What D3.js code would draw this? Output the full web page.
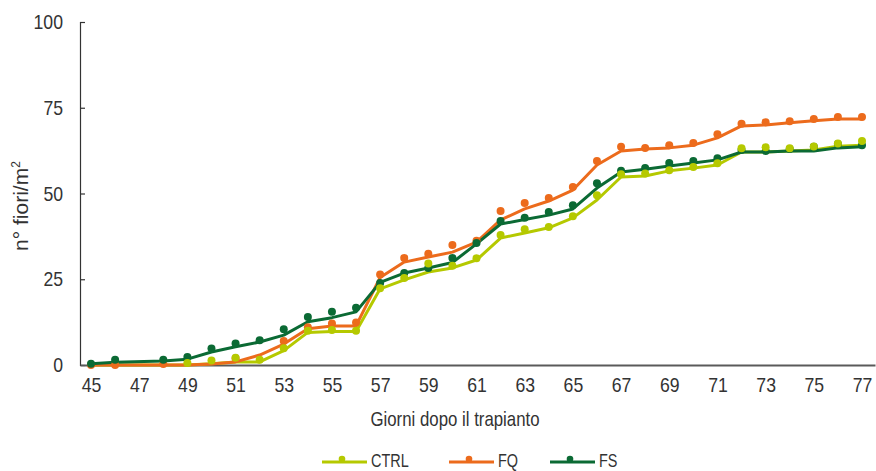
<!DOCTYPE html>
<html>
<head>
<meta charset="utf-8">
<script src="https://cdn.jsdelivr.net/npm/d3@7"></script>
<style>
  html, body { margin: 0; padding: 0; background: #fff; }
  svg text { font-family: "Liberation Sans", Arial, sans-serif; fill: #333; }
</style>
</head>
<body>
<svg id="chart" width="876" height="471"></svg>
<script>
const days = [45,46,48,49,50,51,52,53,54,55,56,57,58,59,60,61,62,63,64,65,66,67,68,69,70,71,72,73,74,75,76,77];

const ctrlDots = [null,null,null,0.6,1.3,2.1,1.5,4.9,10,10.2,10,22.4,25.4,29.6,28.9,31.1,37.9,39.6,40.2,43.4,49.5,55.6,55.8,56.8,57.7,58.8,63.2,63.5,63.2,63.7,64.6,65.3];
const fqDots   = [0,0,0.3,null,null,2,null,7,11,12.1,12.4,26.4,31.2,32.4,35,36.2,44.9,47.2,48.7,51.9,59.5,63.6,63.3,64.1,64.7,67.3,70.3,70.8,71.1,71.7,72.3,72.3];
const fsDots   = [0.4,1.5,1.5,2.3,4.8,6.3,7.2,10.4,14,15.5,16.7,23.9,26.8,28.3,31.2,35.6,42,42.9,44.6,46.6,53,56.6,57.4,58.9,59.5,60.3,62.7,62.4,63,63.6,64.4,64.1];

const ctrlLine = [0,0,0,0,0.4,0.9,0.9,4.2,9.5,9.8,9.8,22.2,24.8,27.1,28.3,30.6,37,38.5,40,42.9,48.1,54.8,55.1,56.6,57.4,58.3,62.1,62.1,62.4,62.7,63.8,64.1];
const fqLine   = [0,0,0,0,0.3,0.9,2.9,6.1,10.6,11.4,11.4,25.5,30,31.5,32.9,35.8,42.3,45.5,47.8,51,58.3,62.4,63,63.3,64.1,66.2,69.7,70,70.6,71.2,71.7,71.7];
const fsLine   = [0.4,0.8,1.2,1.7,3.8,5.3,6.7,8.7,12.6,13.8,15.5,24.1,26.8,28.3,29.9,35.3,41.1,42.4,43.7,45.5,51.6,56.3,57.1,58,58.9,59.8,62.1,62.1,62.4,62.4,63.3,63.6];

const seriesNames = ["CTRL","FQ","FS"];
const seriesColors = ["#b5c900","#ec6b1c","#0b6a34"];
const xTicks = [45,47,49,51,53,55,57,59,61,63,65,67,69,71,73,75,77];
const yTicks = [0,25,50,75,100];
const xTitle = "Giorni dopo il trapianto";
const yTitle = "n° fiori/m";

const series = [
  {name: seriesNames[0], color: seriesColors[0], dots: ctrlDots, line: ctrlLine},
  {name: seriesNames[1], color: seriesColors[1], dots: fqDots, line: fqLine},
  {name: seriesNames[2], color: seriesColors[2], dots: fsDots, line: fsLine}
];

// condense text horizontally (reference uses a condensed face)
function condense(sel, f) {
  sel.each(function() {
    const w = this.getComputedTextLength();
    d3.select(this).attr("textLength", w * f).attr("lengthAdjust", "spacingAndGlyphs");
  });
}

const svg = d3.select("#chart");
const mLeft = 80, mRight = 875, mTop = 22, mBottom = 365;

const x = d3.scaleLinear().domain([44.543, 77.54]).range([mLeft, mRight]);
const y = d3.scaleLinear().domain([0, 100]).range([mBottom, mTop]);

// y axis
const yAxis = d3.axisLeft(y).tickValues(yTicks).tickSize(-5).tickPadding(17);
const gy = svg.append("g").attr("transform", `translate(${mLeft},0)`).call(yAxis);
gy.select(".domain").attr("stroke", "#333").attr("stroke-width", 1.2);
gy.selectAll(".tick line").attr("stroke", "#333").attr("stroke-width", 1.2);
gy.selectAll(".tick text").style("font-size", "21px").attr("fill", "#333");
condense(gy.selectAll(".tick text"), 0.84);

// x axis
const xAxis = d3.axisBottom(x).tickValues(xTicks).tickSize(0).tickPadding(12).tickSizeOuter(0);
const gx = svg.append("g").attr("transform", `translate(0,${mBottom})`).call(xAxis);
gx.select(".domain").attr("stroke", "#5a5a5a").attr("stroke-width", 2.2);
gx.selectAll(".tick text").style("font-size", "21px").attr("fill", "#333");
condense(gx.selectAll(".tick text"), 0.84);

// titles
const xt = svg.append("text").attr("x", 455).attr("y", 426).attr("text-anchor", "middle")
  .style("font-size", "21px").text(xTitle);
condense(xt, 0.8);
const yt = svg.append("text").attr("transform", "translate(28,206) rotate(-90)").attr("text-anchor", "middle")
  .style("font-size", "21px");
yt.append("tspan").text(yTitle);
yt.append("tspan").attr("dy", -8).style("font-size", "12px").text("2");

// lines
const lineGen = d3.line().defined(d => d[1] != null).x(d => x(d[0])).y(d => y(d[1]));
const gLines = svg.append("g");
series.forEach(s => {
  gLines.append("path")
    .datum(days.map((d, i) => [d, s.line[i]]))
    .attr("fill", "none").attr("stroke", s.color).attr("stroke-width", 3)
    .attr("stroke-linejoin", "round")
    .attr("d", lineGen);
});

// dots (order FQ, FS, CTRL)
const gDots = svg.append("g");
[1, 2, 0].forEach(k => {
  const s = series[k];
  gDots.selectAll(null)
    .data(days.map((d, i) => [d, s.dots[i]]).filter(p => p[1] != null))
    .join("circle")
    .attr("cx", d => x(d[0])).attr("cy", d => y(d[1])).attr("r", 4)
    .attr("fill", s.color);
});

// legend
const legendX = [322, 449, 550];
const lg = svg.append("g");
series.forEach((s, i) => {
  const lx = legendX[i];
  lg.append("line").attr("x1", lx).attr("x2", lx + 45).attr("y1", 462).attr("y2", 462)
    .attr("stroke", s.color).attr("stroke-width", 3);
  lg.append("circle").attr("cx", lx + 20).attr("cy", 459).attr("r", 3.3).attr("fill", s.color);
  const t = lg.append("text").attr("x", lx + 49).attr("y", 467).style("font-size", "19px").text(s.name);
  condense(t, 0.76);
});
</script>
</body>
</html>
